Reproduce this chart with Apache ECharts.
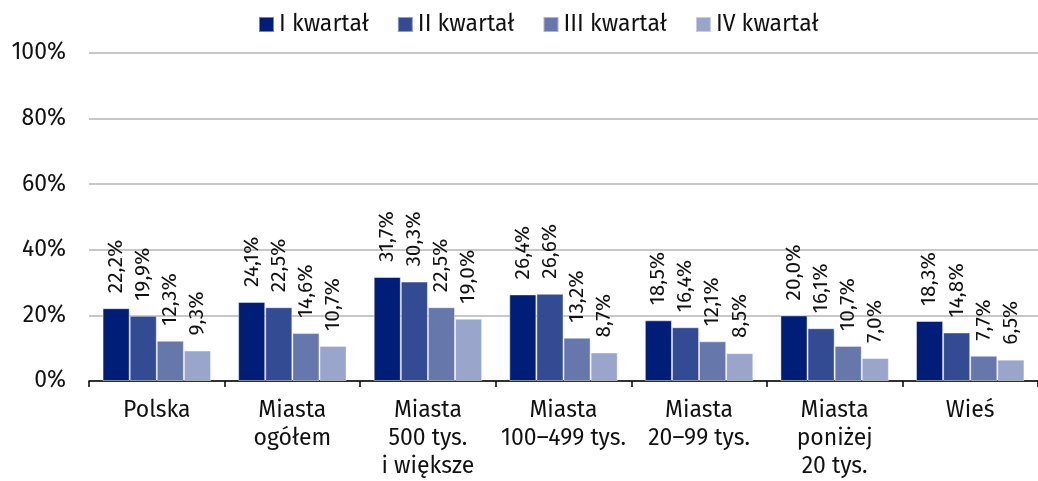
<!DOCTYPE html>
<html>
<head>
<meta charset="utf-8">
<script src="https://cdn.jsdelivr.net/npm/echarts@6/dist/echarts.min.js"></script>
<style>
  html, body { margin: 0; padding: 0; background: #fff; }
  #chart { width: 1038px; height: 481px; }
</style>
</head>
<body>
<div id="chart"></div>
<script>
const categories = [
  'Polska',
  'Miasta\nogółem',
  'Miasta\n500 tys.\ni większe',
  'Miasta\n100–499 tys.',
  'Miasta\n20–99 tys.',
  'Miasta\nponiżej\n20 tys.',
  'Wieś'
];
const seriesNames = ['I kwartał', 'II kwartał', 'III kwartał', 'IV kwartał'];
const q1 = [22.2, 24.1, 31.7, 26.4, 18.5, 20.0, 18.3];
const q2 = [19.9, 22.5, 30.3, 26.6, 16.4, 16.1, 14.8];
const q3 = [12.3, 14.6, 22.5, 13.2, 12.1, 10.7, 7.7];
const q4 = [9.3, 10.7, 19.0, 8.7, 8.5, 7.0, 6.5];
const yTicks = [0, 20, 40, 60, 80, 100];
const colors = ['#001e78', '#334b93', '#6677ab', '#99a5ca'];

const font = '"Fira Sans", "Noto Sans", sans-serif';
const chart = echarts.init(document.getElementById('chart'));

const makeSeries = (name, data, i) => ({
  name,
  type: 'bar',
  data,
  barGap: '0%',
  barCategoryGap: '20%',
  itemStyle: {
    color: colors[i],
    borderColor: 'rgba(255,255,255,0.45)',
    borderWidth: 1
  },
  label: {
    show: true,
    position: 'top',
    rotate: 90,
    align: 'left',
    verticalAlign: 'middle',
    distance: 15,
    color: '#111',
    fontFamily: font,
    fontSize: 21,
    formatter: p => p.value.toFixed(1).replace('.', ',') + '%'
  }
});

chart.setOption({
  animation: false,
  textStyle: { fontFamily: font },
  legend: {
    data: seriesNames,
    top: 8,
    left: 253,
    itemWidth: 15,
    itemHeight: 15,
    itemGap: 28,
    icon: 'rect',
    textStyle: { fontSize: 23, color: '#111', fontFamily: font }
  },
  grid: {
    left: 89,
    top: 53,
    width: 957,
    height: 330,
    containLabel: false
  },
  xAxis: {
    type: 'category',
    data: categories,
    axisLine: { lineStyle: { color: '#000', width: 1.5 } },
    axisTick: { show: true, length: 6, alignWithLabel: false, lineStyle: { color: '#000', width: 1.5 } },
    axisLabel: {
      interval: 0,
      color: '#111',
      fontSize: 23,
      lineHeight: 28,
      margin: 16,
      fontFamily: font
    }
  },
  yAxis: {
    type: 'value',
    min: yTicks[0],
    max: yTicks[yTicks.length - 1],
    interval: 20,
    axisLine: { show: false },
    axisTick: { show: false },
    axisLabel: {
      formatter: '{value}%',
      color: '#111',
      fontSize: 23,
      margin: 23,
      fontFamily: font
    },
    splitLine: { lineStyle: { color: '#b5b5b5', width: 1.5 } }
  },
  series: [
    makeSeries(seriesNames[0], q1, 0),
    makeSeries(seriesNames[1], q2, 1),
    makeSeries(seriesNames[2], q3, 2),
    makeSeries(seriesNames[3], q4, 3)
  ]
});
</script>
</body>
</html>
